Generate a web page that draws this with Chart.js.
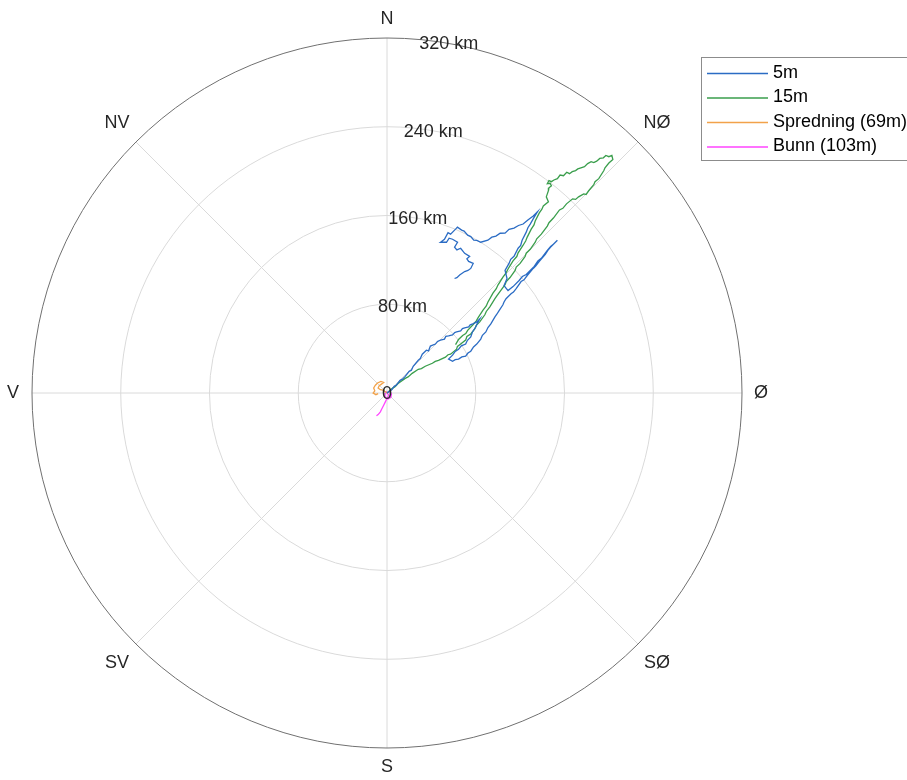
<!DOCTYPE html>
<html>
<head>
<meta charset="utf-8">
<script src="https://cdn.jsdelivr.net/npm/chart.js@4.4.0/dist/chart.umd.min.js"></script>
<style>
  html, body { margin: 0; padding: 0; background: #fff; }
  #wrap { width: 907px; height: 780px; position: relative; overflow: hidden; }
</style>
</head>
<body>
<div id="wrap"><canvas id="driftChart"></canvas></div>
<script>
// Progressive vector tracks, each point is [east km, north km] from the start
const track5m = [
  [0, 0], [4.5, 3.2], [6.5, 6.0], [8.2, 6.8], [11.8, 11.4], [14.0, 12.5], [16.4, 15.0], [20.0, 19.5],
  [22.0, 20.5], [23.6, 24.1], [28.2, 29.5], [30.0, 31.0], [31.8, 35.0], [35.5, 38.6], [37.5, 38.0],
  [39.1, 42.3], [43.6, 44.1], [45.5, 46.5], [48.2, 47.7], [51.8, 48.6], [53.0, 51.0], [55.5, 51.4],
  [59.1, 52.3], [61.0, 54.5], [62.7, 55.0], [66.4, 55.9], [68.0, 58.0], [70.0, 58.6], [73.6, 59.5],
  [75.0, 61.5], [77.3, 62.3], [80.9, 64.1], [83.6, 66.8], [81.5, 63.0], [80.0, 59.5], [77.0, 55.0],
  [75.5, 50.5], [72.5, 47.5], [70.9, 44.1], [67.0, 42.5], [64.5, 39.5], [61.5, 37.5], [59.1, 34.1],
  [55.5, 30.5], [59.1, 28.6], [61.5, 30.0], [64.5, 30.5], [67.5, 32.5], [70.9, 33.2], [73.0, 36.0],
  [75.5, 37.7], [78.0, 41.5], [80.9, 44.1], [84.5, 48.6], [86.0, 52.0], [89.1, 55.0], [91.0, 59.0],
  [93.6, 62.3], [97.3, 68.6], [99.0, 71.0], [100.9, 74.1], [104.5, 79.5], [105.5, 82.0], [107.3, 85.0],
  [111.8, 89.5], [114.0, 91.0], [116.4, 94.1], [120.9, 100.5], [123.5, 102.0], [126.4, 105.9],
  [131.8, 112.3], [134.0, 114.5], [137.3, 118.6], [142.7, 125.0], [145.0, 128.5], [147.3, 131.4],
  [150.9, 135.0], [153.6, 137.7], [150.0, 134.1], [147.5, 132.0], [144.5, 128.6], [139.1, 121.4],
  [136.0, 119.0], [132.7, 114.1], [125.5, 106.8], [122.0, 105.0], [119.1, 101.4], [113.6, 95.9],
  [109.1, 92.3], [105.5, 96.8], [108.2, 103.2], [106.4, 110.5], [110.0, 116.8], [111.5, 120.5],
  [114.5, 123.2], [118.2, 130.5], [120.5, 133.0], [121.8, 137.7], [125.5, 145.0], [127.0, 149.0],
  [129.1, 152.3], [132.7, 158.6], [135.5, 163.2], [131.8, 159.5], [127.0, 156.0], [122.7, 152.3],
  [118.5, 151.0], [114.5, 148.6], [110.0, 147.5], [106.4, 144.1], [102.0, 144.0], [98.2, 141.4],
  [94.5, 140.5], [90.9, 137.7], [84.5, 135.9], [81.0, 137.5], [78.2, 137.7], [75.5, 141.0], [72.7, 142.3],
  [69.5, 146.0], [67.3, 146.8], [63.5, 149.5], [61.8, 147.7], [57.3, 143.2], [55.0, 144.5], [51.8, 138.6],
  [48.2, 135.9], [53.6, 135.9], [56.0, 139.5], [59.1, 138.6], [63.6, 135.9], [60.9, 131.4], [63.0, 129.0],
  [66.4, 130.5], [70.0, 125.9], [74.5, 123.2], [72.0, 121.0], [73.6, 118.6], [77.7, 116.8], [75.5, 112.3],
  [73.0, 110.5], [70.0, 109.5], [65.5, 106.4], [63.0, 104.0], [60.9, 103.2]
];
const track15m = [
  [0, 0], [4.5, 4.1], [7.0, 5.5], [10.0, 8.6], [16.4, 13.2], [19.0, 14.5], [22.7, 17.7], [28.2, 21.4],
  [31.0, 22.0], [34.5, 24.1], [40.9, 26.8], [43.5, 28.5], [46.4, 29.5], [52.7, 32.3], [55.0, 34.5],
  [57.3, 35.0], [62.7, 39.5], [63.5, 42.0], [66.4, 44.1], [70.9, 47.7], [72.0, 51.0], [75.5, 53.2],
  [79.1, 57.7], [80.5, 61.0], [83.6, 64.1], [88.2, 70.5], [89.5, 73.5], [92.7, 77.7], [97.3, 85.0],
  [99.0, 87.5], [101.8, 91.4], [106.4, 97.7], [107.5, 100.5], [110.9, 104.1], [115.5, 110.5],
  [116.5, 113.5], [120.0, 116.8], [124.5, 123.2], [125.5, 126.0], [129.1, 129.5], [133.6, 135.9],
  [135.0, 139.0], [139.1, 143.2], [144.5, 150.5], [146.0, 153.5], [150.0, 157.7], [155.5, 165.0],
  [158.5, 166.5], [161.8, 170.5], [167.3, 175.0], [170.0, 174.5], [172.7, 176.8], [177.3, 179.5],
  [179.5, 179.0], [181.8, 182.3], [186.4, 187.7], [187.5, 190.5], [190.9, 193.2], [195.5, 200.5],
  [196.5, 203.0], [200.0, 207.3], [203.6, 210.5], [202.7, 214.1], [200.0, 213.0], [197.3, 214.1],
  [195.0, 212.0], [191.8, 211.4], [189.0, 209.0], [186.4, 207.7], [184.0, 208.5], [180.9, 206.8],
  [178.0, 204.0], [175.5, 203.2], [172.0, 202.0], [170.0, 200.5], [167.0, 199.5], [164.5, 197.7],
  [162.0, 199.0], [159.1, 195.9], [156.0, 196.5], [153.6, 193.2], [150.5, 192.0], [148.2, 190.5],
  [146.0, 191.5], [144.5, 188.6], [147.0, 189.0], [148.2, 186.8], [146.0, 185.0], [145.5, 182.3],
  [143.6, 176.8], [145.5, 172.3], [140.9, 168.6], [139.5, 165.5], [137.3, 162.3], [133.6, 155.0],
  [132.5, 151.5], [130.0, 147.7], [126.4, 140.5], [125.0, 137.0], [122.7, 133.2], [118.2, 126.4],
  [117.0, 123.0], [113.6, 119.1], [109.1, 111.8], [107.5, 108.5], [104.5, 104.5], [100.0, 97.3],
  [98.5, 94.0], [95.5, 90.0], [90.9, 81.8], [89.5, 78.5], [86.4, 74.5], [82.3, 68.2], [80.5, 65.0],
  [77.7, 61.8], [72.7, 56.4], [71.0, 53.5], [68.2, 51.8], [64.5, 48.2], [61.8, 43.6]
];
const trackSpredning = [
  [0, 0], [-1.5, 1.2], [-3.5, 2.5], [-6, 3], [-8, 4.5], [-7, 6.5], [-5, 8], [-3, 9.5],
  [-5.5, 10.5], [-8.5, 9], [-10.5, 7], [-12, 4.5], [-11, 2], [-12.5, 0], [-10, -1.5], [-8, -0.5]
];
const trackBunn = [
  [0, 0], [2.5, 1.5], [4, -1], [3.5, -4], [1, -5.5], [-1.5, -4], [-2, -1], [-0.5, 1],
  [1.5, -2], [0, -5], [-1.5, -8], [-3, -11], [-4.5, -14], [-6, -17], [-8, -19.5], [-9.5, -20.5]
];

const seriesNames = ['5m', '15m', 'Spredning (69m)', 'Bunn (103m)'];
const seriesColors = ['#2b6cc4', '#3a9e4c', '#f2a24a', '#ff44ff'];
const ringTicks = [0, 80, 160, 240, 320];
const ringLabels = ['0', '80 km', '160 km', '240 km', '320 km'];
const compassLabels = ['N', 'NØ', 'Ø', 'SØ', 'S', 'SV', 'V', 'NV'];
const rMax = 320;

const FONT = '18px "Liberation Sans", Arial, sans-serif';

// Draws the polar grid, compass labels, range labels and legend
const polarGrid = {
  id: 'polarGrid',
  beforeDatasetsDraw(chart) {
    const { ctx, scales: { x, y } } = chart;
    const cx = x.getPixelForValue(0);
    const cy = y.getPixelForValue(0);
    const kmPx = x.getPixelForValue(1) - cx;
    const R = rMax * kmPx;

    ctx.save();
    ctx.strokeStyle = '#dadada';
    ctx.lineWidth = 1;
    ringTicks.slice(1, -1).forEach(r => {
      ctx.beginPath();
      ctx.arc(cx, cy, r * kmPx, 0, 2 * Math.PI);
      ctx.stroke();
    });
    compassLabels.forEach((lbl, i) => {
      const a = i * Math.PI / 4;
      ctx.beginPath();
      ctx.moveTo(cx, cy);
      ctx.lineTo(cx + R * Math.sin(a), cy - R * Math.cos(a));
      ctx.stroke();
    });
    // outer ring doubles as the 320 km ring
    ctx.strokeStyle = '#707070';
    ctx.beginPath();
    ctx.arc(cx, cy, R, 0, 2 * Math.PI);
    ctx.stroke();

    // compass labels outside the outer ring
    ctx.fillStyle = '#262626';
    ctx.font = FONT;
    ctx.textAlign = 'center';
    ctx.textBaseline = 'middle';
    compassLabels.forEach((lbl, i) => {
      const a = i * Math.PI / 4;
      const off = (i % 2 === 0) ? 19 : 27;
      ctx.fillText(lbl, cx + (R + off) * Math.sin(a), cy - (R + off) * Math.cos(a));
    });
    ctx.restore();
  },
  afterDatasetsDraw(chart) {
    const { ctx, scales: { x, y } } = chart;
    const cx = x.getPixelForValue(0);
    const cy = y.getPixelForValue(0);
    const kmPx = x.getPixelForValue(1) - cx;

    ctx.save();
    ctx.font = FONT;
    ctx.fillStyle = '#262626';
    ctx.textAlign = 'center';
    ctx.textBaseline = 'middle';
    // range labels sit at 80 degrees (10 degrees east of north)
    const a = 80 * Math.PI / 180;
    ringTicks.forEach((r, i) => {
      ctx.fillText(ringLabels[i], cx + r * kmPx * Math.cos(a), cy - r * kmPx * Math.sin(a) + 1);
    });

    // legend box
    const lx = 701, ly = 57, lw = 215, lh = 103;
    ctx.fillStyle = '#ffffff';
    ctx.fillRect(lx, ly, lw, lh);
    ctx.strokeStyle = '#8c8c8c';
    ctx.lineWidth = 1;
    ctx.strokeRect(lx + 0.5, ly + 0.5, lw, lh);
    ctx.textAlign = 'left';
    ctx.fillStyle = '#000000';
    seriesNames.forEach((name, i) => {
      const ry = ly + 16 + i * 24.5;
      ctx.strokeStyle = seriesColors[i];
      ctx.lineWidth = 1.3;
      ctx.beginPath();
      ctx.moveTo(lx + 6, ry + 0.5);
      ctx.lineTo(lx + 67, ry + 0.5);
      ctx.stroke();
      ctx.fillText(name, lx + 72, ry);
    });
    ctx.restore();
  }
};

const tracks = [track5m, track15m, trackSpredning, trackBunn];

new Chart(document.getElementById('driftChart'), {
  type: 'scatter',
  data: {
    datasets: tracks.map((t, i) => ({
      label: seriesNames[i],
      data: t.map(p => ({ x: p[0], y: p[1] })),
      borderColor: seriesColors[i],
      backgroundColor: seriesColors[i],
      showLine: true,
      borderWidth: 1.3,
      pointRadius: 0,
      tension: 0
    }))
  },
  options: {
    responsive: true,
    maintainAspectRatio: false,
    animation: false,
    layout: { padding: { left: 32, right: 165, top: 38, bottom: 32 } },
    scales: {
      x: { type: 'linear', min: -rMax, max: rMax, display: false },
      y: { type: 'linear', min: -rMax, max: rMax, display: false }
    },
    plugins: {
      legend: { display: false },
      tooltip: { enabled: false }
    }
  },
  plugins: [polarGrid]
});
</script>
</body>
</html>
